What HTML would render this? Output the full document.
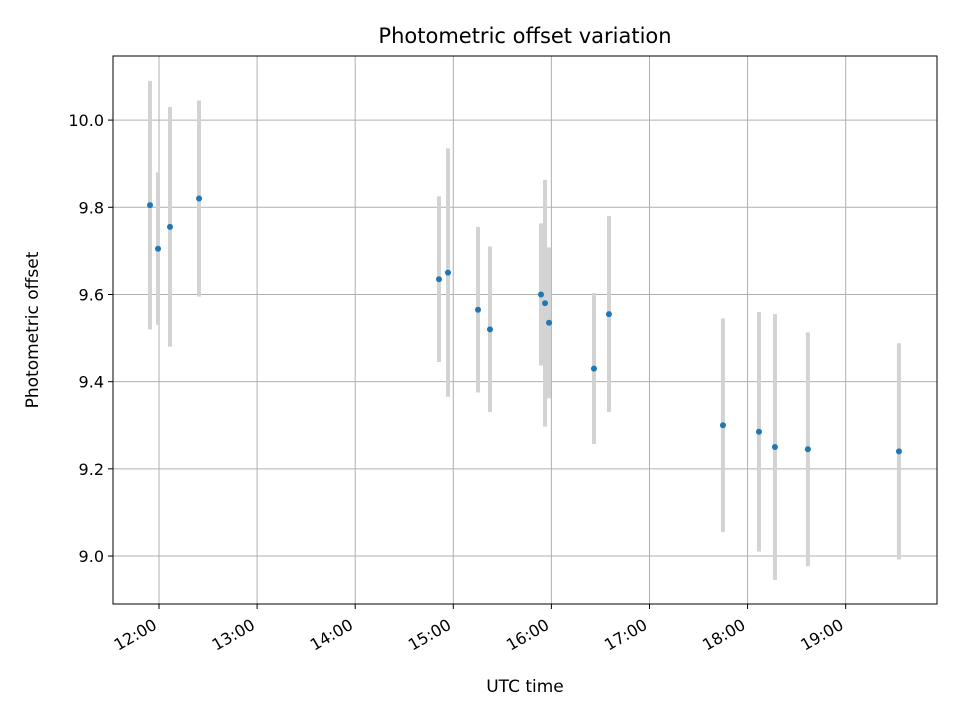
<!DOCTYPE html>
<html><head><meta charset="utf-8"><style>
body{margin:0;background:#fff;}
svg text{font-family:"DejaVu Sans","Liberation Sans",sans-serif;}
</style></head><body>
<svg id="chart" width="960" height="720" xmlns="http://www.w3.org/2000/svg">
<rect width="960" height="720" fill="#fff"/>
<g id="grid"></g>
<g id="marks"></g>
<rect x="113" y="56" width="824" height="548" fill="none" stroke="#000" stroke-width="1"/>
<g id="axes"></g>
<text x="525" y="43" font-size="21" text-anchor="middle">Photometric offset variation</text>
<text x="525" y="692" font-size="17" text-anchor="middle">UTC time</text>
<text x="38" y="330" font-size="17" text-anchor="middle" transform="rotate(-90 38 330)">Photometric offset</text>
</svg>
<script>
const times = [11.908,11.99,12.112,12.408,14.854,14.946,15.252,15.374,15.894,15.935,15.976,16.434,16.587,17.749,18.116,18.279,18.615,19.543];
const offsets = [9.805,9.705,9.755,9.82,9.635,9.65,9.565,9.52,9.6,9.58,9.535,9.43,9.555,9.3,9.285,9.25,9.245,9.24];
const errors = [0.285,0.175,0.275,0.225,0.19,0.285,0.19,0.19,0.163,0.283,0.173,0.173,0.225,0.245,0.275,0.305,0.268,0.248];
const xTicks = [12,13,14,15,16,17,18,19];
const xTickLabels = ["12:00","13:00","14:00","15:00","16:00","17:00","18:00","19:00"];
const yTicks = [9.0,9.2,9.4,9.6,9.8,10.0];
const yTickLabels = ["9.0","9.2","9.4","9.6","9.8","10.0"];

const L=113,R=937,T=56,B=604;
const xMin=11.531,xMax=19.931,yMin=8.89,yMax=10.147;
const sx=v=>L+(v-xMin)/(xMax-xMin)*(R-L);
const sy=v=>B-(v-yMin)/(yMax-yMin)*(B-T);
const NS="http://www.w3.org/2000/svg";
function mk(tag,attrs,parent){const e=document.createElementNS(NS,tag);for(const k in attrs)e.setAttribute(k,attrs[k]);parent.appendChild(e);return e;}
const grid=document.getElementById('grid'),axes=document.getElementById('axes'),marks=document.getElementById('marks');

xTicks.forEach((t,i)=>{
  const x=sx(t);
  const g=mk('line',{x1:x,x2:x,y1:T,y2:B,stroke:'#b0b0b0','stroke-width':1},grid);
  
  
  const tk=mk('line',{x1:x,x2:x,y1:B,y2:B+5,stroke:'#000','stroke-width':1},axes);
  
  
  const ax=x-1, ay=B+24;
  const tx=mk('text',{x:ax,y:ay,'font-size':16,'text-anchor':'end',transform:`rotate(-30 ${ax} ${ay})`},axes);
  tx.textContent=xTickLabels[i];
  
  
});
yTicks.forEach((v,i)=>{
  const y=sy(v);
  const g=mk('line',{x1:L,x2:R,y1:y,y2:y,stroke:'#b0b0b0','stroke-width':1},grid);
  
  
  const tk=mk('line',{x1:L-5,x2:L,y1:y,y2:y,stroke:'#000','stroke-width':1},axes);
  
  
  const tx=mk('text',{x:L-9,y:y+6,'font-size':16,'text-anchor':'end'},axes);
  tx.textContent=yTickLabels[i];
  
  
});
times.forEach((t,i)=>{
  const x=sx(t);
  const e=mk('line',{x1:x,x2:x,y1:sy(offsets[i]+errors[i]),y2:sy(offsets[i]-errors[i]),stroke:'#d3d3d3','stroke-width':4},marks);
  
  
});
times.forEach((t,i)=>{
  const c=mk('circle',{cx:sx(t),cy:sy(offsets[i]),r:3,fill:'#1f77b4'},marks);
  
  
});
</script>
</body></html>
